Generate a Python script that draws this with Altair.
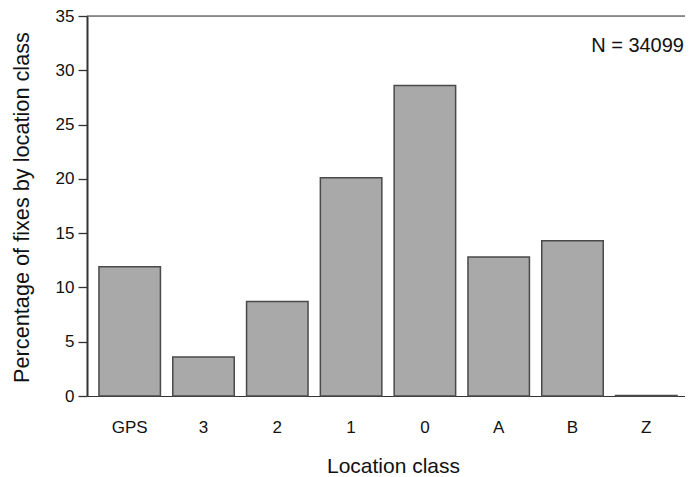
import altair as alt
import pandas as pd

categories = ["GPS", "3", "2", "1", "0", "A", "B", "Z"]
percent = [11.9, 3.6, 8.7, 20.1, 28.6, 12.8, 14.3, 0.05]
y_ticks = [0, 5, 10, 15, 20, 25, 30, 35]
note = "N = 34099"

W, H = 598, 380
FONT = "Liberation Sans"

df = pd.DataFrame({"cls": categories, "pct": percent})

bars = alt.Chart(df).mark_bar(
    fill="#a9a9a9", stroke="#4a4a4a", strokeWidth=1.5
).encode(
    x=alt.X(
        "cls:N", sort=categories,
        scale=alt.Scale(paddingInner=0.167, paddingOuter=0.135, align=0.6),
        axis=alt.Axis(
            title="Location class", ticks=False, labelAngle=0,
            labelFont=FONT, labelFontSize=17, labelColor="#111",
            labelBaseline="alphabetic", labelPadding=36,
            titleFont=FONT, titleFontSize=21, titleFontWeight="normal", titleColor="#111",
            titleX=306, titleY=76, titleBaseline="alphabetic",
            domainColor="#333", domainWidth=1.2,
        ),
    ),
    y=alt.Y(
        "pct:Q",
        scale=alt.Scale(domain=[0, 35], nice=False),
        axis=alt.Axis(
            title="Percentage of fixes by location class", values=y_ticks, grid=False,
            tickSize=9, tickColor="#333", tickWidth=1.3,
            labelFont=FONT, labelFontSize=17, labelColor="#111", labelPadding=4,
            titleFont=FONT, titleFontSize=21.7, titleFontWeight="normal", titleColor="#111",
            titleX=-59, titleY=191, titleBaseline="alphabetic", titleAlign="center",
            domainColor="#333", domainWidth=2,
        ),
    ),
)

top_line = alt.Chart(pd.DataFrame({"v": [35]})).mark_rule(
    color="#333", strokeWidth=1.2
).encode(y="v:Q", x=alt.value(0), x2=alt.value(W))

label = alt.Chart(pd.DataFrame({"t": [note], "v": [31.7]})).mark_text(
    align="right", baseline="alphabetic", font=FONT, fontSize=20, color="#111"
).encode(y="v:Q", x=alt.value(W - 1), text="t:N")

chart = alt.layer(bars, top_line, label).properties(
    width=W, height=H,
    autosize=alt.AutoSizeParams(type="none"),
    padding={"left": 79, "top": 8, "right": 0, "bottom": 80},
).configure_view(stroke=None).configure(background="white")

chart.save("out.html", embed_options={"renderer": "svg", "actions": False})
